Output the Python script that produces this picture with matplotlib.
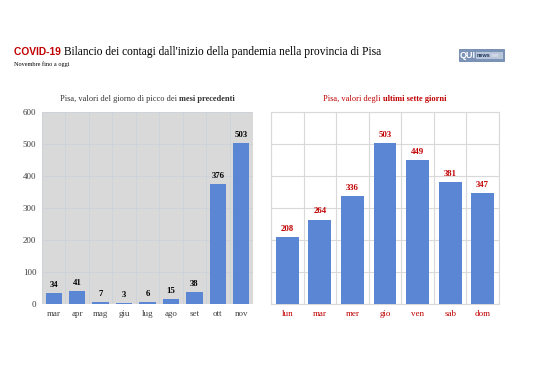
import matplotlib
matplotlib.use("Agg")
import matplotlib.pyplot as plt
from matplotlib.patches import Rectangle
import numpy as np

# left panel: peak day of previous months
months = ['mar', 'apr', 'mag', 'giu', 'lug', 'ago', 'set', 'ott', 'nov']
month_peaks = [34, 41, 7, 3, 6, 15, 38, 376, 503]

# right panel: last seven days
days = ['lun', 'mar', 'mer', 'gio', 'ven', 'sab', 'dom']
day_values = [208, 264, 336, 503, 449, 381, 347]

yticks = [0, 100, 200, 300, 400, 500, 600]

BAR = '#5b86d4'
RED = '#c00000'
SERIF = 'Liberation Serif'

W, H = 538, 380
fig = plt.figure(figsize=(W / 100, H / 100), dpi=100)
fig.patch.set_facecolor('white')


def px(x0, y0, x1, y1):
    # pixel box (top-left origin) -> figure fraction rect
    return [x0 / W, 1 - y1 / H, (x1 - x0) / W, (y1 - y0) / H]


def run_text(x, y, parts):
    # draw a row of text pieces side by side: (string, weight, color, size, family)
    fig.canvas.draw()
    r = fig.canvas.get_renderer()
    xx = x
    for s, weight, color, size, fam in parts:
        t = fig.text(xx, y, s, fontweight=weight, color=color, fontsize=size,
                     family=fam, va='baseline', ha='left')
        xx += t.get_window_extent(renderer=r).width / W


def centered_run(cx, y, parts):
    fig.canvas.draw()
    r = fig.canvas.get_renderer()
    total = 0
    for s, weight, color, size, fam in parts:
        t = fig.text(0, 0, s, fontweight=weight, fontsize=size, family=fam)
        total += t.get_window_extent(renderer=r).width
        t.remove()
    run_text(cx - total / 2 / W, y, parts)


# left chart
ax1 = fig.add_axes(px(42, 112, 253, 304))
x1 = np.arange(len(months))
ax1.set_facecolor('#d9d9d9')
b1 = ax1.bar(x1, month_peaks, width=0.7, color=BAR, zorder=3)
ax1.set_xlim(-0.5, len(months) - 0.5)
ax1.set_ylim(0, 600)
ax1.set_yticks(yticks)
ax1.set_xticks(x1)
ax1.set_xticklabels(months, family=SERIF, fontsize=6.5, color='#404040')
ax1.set_yticklabels([str(v) for v in yticks], family=SERIF, fontsize=6.5, color='#404040')
ax1.set_xticks(np.arange(len(months) + 1) - 0.5, minor=True)
ax1.grid(True, which='minor', axis='x', color='#cdd1da', lw=0.6, zorder=0)
ax1.grid(True, which='major', axis='y', color='#cdd1da', lw=0.6, zorder=0)
ax1.tick_params(which='both', length=0, pad=4)
for s in ax1.spines.values():
    s.set_visible(False)
for rect, v in zip(b1, month_peaks):
    ax1.annotate(str(v), (rect.get_x() + rect.get_width() / 2, v), xytext=(0, 3),
                 textcoords='offset points', ha='center', va='bottom',
                 fontsize=6.3, fontweight='bold', family=SERIF, color='black')

# right chart
ax2 = fig.add_axes(px(271, 112, 499, 304))
x2 = np.arange(len(days))
b2 = ax2.bar(x2, day_values, width=0.7, color=BAR, zorder=3)
ax2.set_xlim(-0.5, len(days) - 0.5)
ax2.set_ylim(0, 600)
ax2.set_yticks(yticks)
ax2.set_yticklabels([])
ax2.set_xticks(x2)
ax2.set_xticklabels(days, family=SERIF, fontsize=6.5, color=RED)
ax2.set_xticks(np.arange(len(days) + 1) - 0.5, minor=True)
ax2.grid(True, which='minor', axis='x', color='#d9d9d9', lw=0.8, zorder=0)
ax2.grid(True, which='major', axis='y', color='#d9d9d9', lw=0.8, zorder=0)
ax2.tick_params(which='both', length=0, pad=4)
for s in ax2.spines.values():
    s.set_color('#d9d9d9')
    s.set_linewidth(0.8)
for rect, v in zip(b2, day_values):
    ax2.annotate(str(v), (rect.get_x() + rect.get_width() / 2, v), xytext=(0, 3),
                 textcoords='offset points', ha='center', va='bottom',
                 fontsize=6.3, fontweight='bold', family=SERIF, color=RED)

# headings
run_text(14 / W, 1 - 55 / H, [
    ('COVID-19 ', 'bold', RED, 7.4, 'Liberation Sans'),
    ('Bilancio dei contagi dall\'inizio della pandemia nella provincia di Pisa',
     'normal', 'black', 8.3, SERIF),
])
fig.text(14 / W, 1 - 66 / H, 'Novembre fino a oggi', fontsize=4.5, family=SERIF,
         color='black', va='baseline')

centered_run((42 + 253) / 2 / W, 1 - 101 / H, [
    ('Pisa, valori del giorno di picco dei ', 'normal', '#333333', 6, SERIF),
    ('mesi precedenti', 'bold', '#333333', 6, SERIF),
])
centered_run((271 + 499) / 2 / W, 1 - 101 / H, [
    ('Pisa, valori degli ', 'normal', RED, 6, SERIF),
    ('ultimi sette giorni', 'bold', RED, 6, SERIF),
])

# small logo badge
fig.add_artist(Rectangle((459 / W, 1 - 61 / H), 45 / W, 12 / H, transform=fig.transFigure,
                         fc='#7c93b8', ec='#5f7aa3', lw=0.5))
fig.add_artist(Rectangle((476 / W, 1 - 59 / H), 27 / W, 7 / H, transform=fig.transFigure,
                         fc='#b9c6da', ec='none'))
fig.text(460 / W, 1 - 55 / H, 'QUI', fontsize=6.5, fontweight='bold', color='white',
         family='Liberation Sans', va='center', ha='left')
fig.text(477 / W, 1 - 55.5 / H, 'news', fontsize=4, fontweight='bold', color='#1f3558',
         family='Liberation Sans', va='center', ha='left')
fig.text(491 / W, 1 - 55.5 / H, '.net', fontsize=3.5, color='#eef2f8',
         family='Liberation Sans', va='center', ha='left')

fig.savefig('out.png', dpi=100, facecolor='white')
